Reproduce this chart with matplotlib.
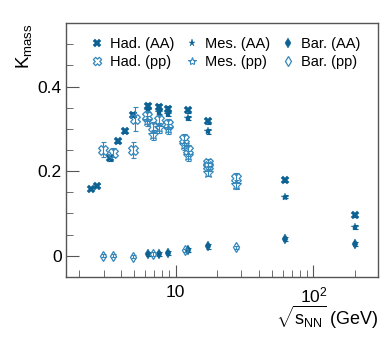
import numpy as np
import matplotlib
matplotlib.use("Agg")
import matplotlib.pyplot as plt
from matplotlib.path import Path
from matplotlib.ticker import FixedLocator, NullFormatter, FixedFormatter

plt.rcParams['font.family'] = ['Liberation Sans', 'DejaVu Sans']
plt.rcParams['mathtext.fontset'] = 'custom'
plt.rcParams['mathtext.rm'] = 'Liberation Sans'
plt.rcParams['mathtext.it'] = 'Liberation Sans'

# ---- data ----
had_aa_x = [2.41, 2.67, 3.33, 3.83, 4.28, 4.86, 6.27, 7.62, 8.77, 12.3, 17.3, 62.4, 200]
had_aa_y = [0.159, 0.166, 0.230, 0.271, 0.295, 0.333, 0.355, 0.352, 0.347, 0.344, 0.318, 0.180, 0.096]
had_aa_e = [0.004, 0.004, 0.005, 0.005, 0.005, 0.006, 0.006, 0.006, 0.006, 0.006, 0.006, 0.005, 0.005]

mes_aa_x = [6.27, 7.62, 8.77, 12.3, 17.3, 62.4, 200]
mes_aa_y = [0.344, 0.339, 0.335, 0.326, 0.294, 0.140, 0.068]
mes_aa_e = [0.005, 0.005, 0.005, 0.005, 0.005, 0.004, 0.004]

bar_aa_x = [6.27, 7.62, 8.77, 12.3, 17.3, 62.4, 200]
bar_aa_y = [0.004, 0.004, 0.006, 0.013, 0.022, 0.040, 0.028]
bar_aa_e = [0.005, 0.005, 0.005, 0.005, 0.005, 0.004, 0.004]

had_pp_x = [2.98, 3.52, 4.92, 5.06, 6.15, 6.80, 7.55, 8.75, 11.4, 12.3, 17.3, 17.3, 27.4]
had_pp_y = [0.251, 0.244, 0.251, 0.324, 0.330, 0.304, 0.320, 0.312, 0.275, 0.249, 0.220, 0.212, 0.185]
had_pp_e = [0.018, 0.010, 0.019, 0.028, 0.012, 0.012, 0.012, 0.012, 0.012, 0.012, 0.008, 0.008, 0.010]

mes_pp_x = [6.15, 6.80, 7.55, 8.75, 11.4, 12.3, 17.3, 27.4]
mes_pp_y = [0.318, 0.286, 0.302, 0.300, 0.262, 0.236, 0.196, 0.168]
mes_pp_e = [0.012, 0.012, 0.012, 0.012, 0.012, 0.012, 0.008, 0.010]

bar_pp_x = [2.98, 3.52, 4.92, 6.80, 11.7, 27.4]
bar_pp_y = [0.000, 0.000, -0.002, 0.004, 0.013, 0.020]
bar_pp_e = [0.004, 0.004, 0.004, 0.004, 0.004, 0.004]

labels = ['Had. (AA)', 'Mes. (AA)', 'Bar. (AA)', 'Had. (pp)', 'Mes. (pp)', 'Bar. (pp)']

# ---- style ----
c_fill = '#0d6293'
c_open = '#3487bb'

# open cross (ROOT marker 28) rotated 45 deg
w = 0.38
pts = [(-w, 1), (w, 1), (w, w), (1, w), (1, -w), (w, -w), (w, -1), (-w, -1),
       (-w, -w), (-1, -w), (-1, w), (-w, w), (-w, 1)]
th = np.deg2rad(45)
rot = [(x*np.cos(th) - y*np.sin(th), x*np.sin(th) + y*np.cos(th)) for x, y in pts]
open_cross = Path(rot, closed=True)

fig = plt.figure(figsize=(3.89, 3.39), dpi=100)
ax = fig.add_axes([0.170, 0.183, 0.802, 0.749])

handles = []
def plot(x, y, e, marker, color, filled, ms, label, mew=1.0):
    ax.errorbar(x, y, yerr=e, fmt='none', ecolor=color, elinewidth=0.8, capsize=1.8, capthick=0.8)
    ln, = ax.plot(x, y, linestyle='none', marker=marker, ms=ms, color=color,
                  mfc=color if filled else 'none', mec=color, mew=mew, label=label)
    handles.append(ln)

plot(had_aa_x, had_aa_y, had_aa_e, 'X', c_fill, True, 6, labels[0], 0.3)
plot(mes_aa_x, mes_aa_y, mes_aa_e, '*', c_fill, True, 6, labels[1], 0.3)
plot(bar_aa_x, bar_aa_y, bar_aa_e, 'd', c_fill, True, 5.5, labels[2], 0.3)
plot(had_pp_x, had_pp_y, had_pp_e, open_cross, c_open, False, 7, labels[3], 0.9)
plot(mes_pp_x, mes_pp_y, mes_pp_e, '*', c_open, False, 7, labels[4], 0.8)
plot(bar_pp_x, bar_pp_y, bar_pp_e, 'd', c_open, False, 5.5, labels[5], 0.9)

ax.set_xscale('log')
ax.set_xlim(1.6, 295)
ax.set_ylim(-0.05, 0.55)

ax.xaxis.set_major_locator(FixedLocator([10, 100]))
ax.xaxis.set_major_formatter(FixedFormatter(['10', '10$^2$']))
minors = [m * d for d in (1, 10, 100) for m in range(2, 10) if 1.6 <= m * d <= 295]
ax.xaxis.set_minor_locator(FixedLocator(minors))
ax.xaxis.set_minor_formatter(NullFormatter())
ax.set_yticks([0, 0.2, 0.4])
ax.set_yticklabels(['0', '0.2', '0.4'])
ax.yaxis.set_minor_locator(FixedLocator(np.arange(-0.05, 0.551, 0.05)))

ax.tick_params(which='both', direction='in', top=False, right=False, labelsize=12.5, color='#555555')
ax.tick_params(axis='y', which='major', length=9, pad=3)
ax.tick_params(axis='y', which='minor', length=5)
ax.tick_params(axis='x', which='major', length=9, pad=6)
ax.tick_params(axis='x', which='minor', length=5)
for s in ax.spines.values():
    s.set_color('#555555')
    s.set_linewidth(1.0)

fig.text(0.035, 0.932, r'K$_{\rm mass}$', rotation=90, fontsize=13.5, ha='left', va='top')
fig.text(0.972, 0.025, r'$\sqrt{s_{\rm NN}}$ (GeV)', fontsize=13, ha='right', va='bottom')

# row-major order for a 3-column legend
order = [0, 3, 1, 4, 2, 5]
ax.legend([handles[i] for i in order], [labels[i] for i in order],
          ncol=3, loc='upper left', bbox_to_anchor=(0.045, 0.985), frameon=False, fontsize=10.5,
          handlelength=0.9, handletextpad=0.45, columnspacing=0.75, labelspacing=0.25,
          borderaxespad=0.3, markerscale=0.85)

fig.savefig('out.png', dpi=100)
